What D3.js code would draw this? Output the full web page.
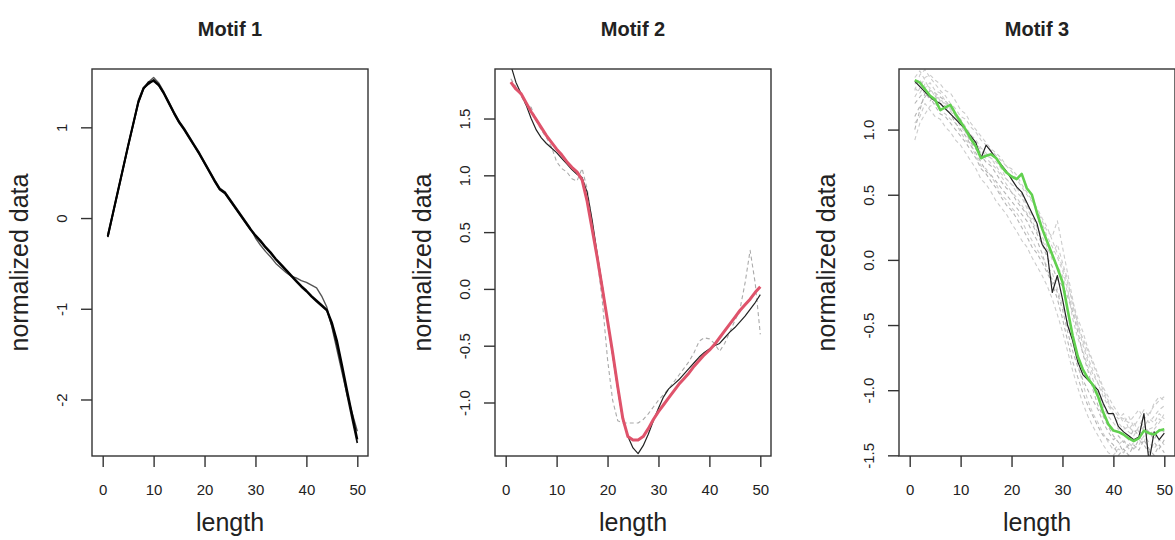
<!DOCTYPE html>
<html>
<head>
<meta charset="utf-8">
<script src="https://cdn.jsdelivr.net/npm/d3@7/dist/d3.min.js"></script>
<style>
body { margin: 0; background: #fff; }
text { font-family: "Liberation Sans", Arial, sans-serif; fill: #222; }
</style>
</head>
<body>
<div class="chart"></div>
<script>
var width = 1175, height = 540;

// x positions of every series
var lengthIdx = d3.range(1, 51);

var titles = ["Motif 1", "Motif 2", "Motif 3"];
var xTicks = [0, 10, 20, 30, 40, 50];
var yTicks1 = [-2, -1, 0, 1];
var yTicks2 = [-1, -0.5, 0, 0.5, 1, 1.5];
var yTicks3 = [-1.5, -1, -0.5, 0, 0.5, 1];

// motif 1 : members (all black)
var m1a = [-0.20,0.05,0.30,0.55,0.80,1.04,1.28,1.43,1.48,1.52,1.47,1.38,1.27,1.16,1.06,0.98,0.89,0.80,0.71,0.61,0.51,0.41,0.32,0.28,0.20,0.12,0.04,-0.04,-0.12,-0.19,-0.25,-0.32,-0.38,-0.45,-0.51,-0.57,-0.63,-0.69,-0.75,-0.80,-0.86,-0.91,-0.96,-1.01,-1.15,-1.35,-1.62,-1.90,-2.17,-2.44];
var m1b = [-0.18,0.06,0.31,0.56,0.81,1.05,1.30,1.44,1.50,1.55,1.49,1.39,1.28,1.17,1.07,0.99,0.90,0.81,0.72,0.62,0.52,0.42,0.33,0.29,0.21,0.13,0.05,-0.03,-0.11,-0.22,-0.30,-0.37,-0.43,-0.50,-0.55,-0.60,-0.64,-0.66,-0.69,-0.71,-0.74,-0.77,-0.86,-0.98,-1.20,-1.45,-1.70,-1.95,-2.15,-2.35];
var m1c = [-0.21,0.04,0.29,0.54,0.79,1.03,1.27,1.42,1.50,1.51,1.46,1.37,1.26,1.15,1.05,0.97,0.88,0.79,0.70,0.60,0.50,0.40,0.31,0.27,0.19,0.11,0.03,-0.05,-0.13,-0.20,-0.26,-0.33,-0.39,-0.46,-0.52,-0.58,-0.64,-0.70,-0.76,-0.81,-0.87,-0.92,-0.97,-1.02,-1.18,-1.40,-1.66,-1.95,-2.22,-2.48];

// motif 2 : grey dashed member, black member, red centre
var m2grey = [1.85,1.78,1.70,1.62,1.60,1.48,1.40,1.33,1.25,1.12,1.06,1.03,0.97,0.95,1.06,0.88,0.58,0.26,-0.12,-0.62,-0.98,-1.16,-1.18,-1.18,-1.18,-1.18,-1.15,-1.10,-1.04,-0.98,-0.93,-0.88,-0.82,-0.76,-0.70,-0.64,-0.56,-0.46,-0.43,-0.44,-0.48,-0.55,-0.48,-0.38,-0.28,-0.18,0.05,0.34,0.05,-0.40];
var m2black = [1.97,1.82,1.72,1.62,1.50,1.40,1.33,1.28,1.24,1.20,1.15,1.10,1.05,1.01,0.98,0.85,0.60,0.30,0.02,-0.28,-0.58,-0.88,-1.15,-1.30,-1.40,-1.45,-1.38,-1.28,-1.16,-1.05,-0.95,-0.88,-0.84,-0.80,-0.75,-0.70,-0.65,-0.60,-0.56,-0.53,-0.50,-0.48,-0.43,-0.38,-0.34,-0.29,-0.24,-0.18,-0.12,-0.05];
var m2red = [1.82,1.76,1.72,1.64,1.56,1.49,1.42,1.35,1.29,1.23,1.18,1.12,1.07,1.03,0.96,0.77,0.52,0.27,0.00,-0.28,-0.56,-0.86,-1.14,-1.30,-1.33,-1.33,-1.30,-1.23,-1.15,-1.08,-1.02,-0.96,-0.90,-0.84,-0.79,-0.74,-0.68,-0.63,-0.58,-0.54,-0.49,-0.43,-0.37,-0.31,-0.25,-0.19,-0.14,-0.09,-0.03,0.02];

// motif 3 : grey dashed members, black member, green centre
var m3g1 = [0.92,1.05,1.12,1.18,1.20,1.15,1.12,1.08,1.05,0.98,0.92,0.88,0.80,0.72,0.70,0.64,0.58,0.50,0.46,0.40,0.36,0.30,0.22,0.15,0.08,0.02,-0.05,-0.10,-0.22,-0.35,-0.48,-0.62,-0.80,-0.95,-1.08,-1.18,-1.25,-1.33,-1.40,-1.46,-1.42,-1.38,-1.45,-1.40,-1.35,-1.40,-1.30,-1.28,-1.22,-1.25];
var m3g2 = [1.30,1.42,1.46,1.40,1.35,1.30,1.26,1.20,1.16,1.10,1.08,1.02,0.98,0.92,0.88,0.84,0.80,0.76,0.72,0.70,0.65,0.58,0.52,0.46,0.38,0.30,0.22,0.18,0.30,0.10,-0.10,-0.30,-0.50,-0.65,-0.78,-0.88,-0.95,-1.02,-1.10,-1.15,-1.20,-1.22,-1.25,-1.20,-1.15,-1.22,-1.18,-1.12,-1.08,-1.05];
var m3g3 = [1.10,1.18,1.25,1.30,1.28,1.25,1.22,1.18,1.10,1.05,0.98,0.90,0.85,0.80,0.75,0.72,0.66,0.60,0.55,0.52,0.45,0.40,0.35,0.28,0.20,0.12,0.02,-0.05,-0.15,-0.20,-0.28,-0.40,-0.55,-0.72,-0.85,-1.00,-1.12,-1.20,-1.28,-1.35,-1.40,-1.48,-1.42,-1.45,-1.38,-1.42,-1.48,-1.40,-1.45,-1.38];
var m3g4 = [1.35,1.38,1.32,1.36,1.30,1.28,1.22,1.15,1.12,1.08,1.02,0.96,0.92,0.86,0.82,0.78,0.75,0.70,0.62,0.58,0.55,0.50,0.42,0.35,0.25,0.18,0.10,0.00,-0.05,-0.12,-0.25,-0.38,-0.52,-0.60,-0.70,-0.80,-0.90,-1.00,-1.08,-1.20,-1.25,-1.30,-1.28,-1.32,-1.30,-1.25,-1.35,-1.30,-1.25,-1.18];
var m3g5 = [1.20,1.25,1.30,1.22,1.26,1.20,1.18,1.12,1.05,1.00,0.95,0.88,0.82,0.75,0.68,0.65,0.60,0.55,0.50,0.45,0.40,0.35,0.30,0.22,0.15,0.05,-0.08,-0.15,-0.25,-0.38,-0.55,-0.70,-0.82,-0.92,-1.00,-1.08,-1.15,-1.25,-1.32,-1.38,-1.35,-1.40,-1.38,-1.30,-1.35,-1.28,-1.32,-1.38,-1.30,-1.32];
var m3g6 = [1.40,1.45,1.38,1.30,1.28,1.22,1.20,1.16,1.12,1.06,1.00,0.96,0.90,0.84,0.80,0.78,0.72,0.66,0.62,0.58,0.52,0.48,0.40,0.32,0.30,0.28,0.18,0.10,0.02,-0.08,-0.22,-0.45,-0.60,-0.70,-0.82,-0.92,-1.02,-1.12,-1.20,-1.25,-1.30,-1.28,-1.32,-1.35,-1.28,-1.20,-1.25,-1.20,-1.15,-1.12];
var m3g7 = [1.05,1.10,1.20,1.15,1.10,1.08,1.02,0.98,0.92,0.88,0.82,0.76,0.70,0.62,0.58,0.52,0.45,0.40,0.35,0.28,0.22,0.15,0.10,0.02,-0.05,-0.12,-0.20,-0.30,-0.42,-0.55,-0.70,-0.85,-0.98,-1.10,-1.20,-1.28,-1.35,-1.42,-1.48,-1.50,-1.45,-1.48,-1.40,-1.45,-1.42,-1.35,-1.40,-1.45,-1.38,-1.42];
var m3g8 = [1.25,1.32,1.40,1.42,1.38,1.35,1.30,1.28,1.22,1.15,1.12,1.05,1.00,0.95,0.90,0.85,0.82,0.78,0.72,0.68,0.62,0.56,0.50,0.45,0.40,0.32,0.25,0.15,0.05,-0.05,-0.18,-0.32,-0.45,-0.55,-0.68,-0.78,-0.88,-0.98,-1.05,-1.12,-1.18,-1.25,-1.20,-1.28,-1.22,-1.15,-1.20,-1.10,-1.05,-1.08];
var m3g9 = [1.00,1.15,1.28,1.25,1.18,1.12,1.10,1.05,1.00,0.95,0.90,0.84,0.78,0.70,0.66,0.60,0.55,0.48,0.42,0.38,0.32,0.25,0.18,0.10,0.05,-0.02,-0.10,-0.18,-0.30,-0.45,-0.62,-0.78,-0.90,-1.02,-1.12,-1.20,-1.28,-1.35,-1.38,-1.42,-1.50,-1.45,-1.50,-1.42,-1.46,-1.38,-1.45,-1.50,-1.42,-1.48];
var m3g10 = [1.32,1.28,1.35,1.32,1.25,1.24,1.18,1.14,1.10,1.02,0.98,0.92,0.88,0.82,0.78,0.74,0.70,0.64,0.58,0.52,0.48,0.42,0.36,0.30,0.22,0.15,0.08,0.05,0.12,-0.02,-0.15,-0.35,-0.48,-0.62,-0.75,-0.85,-0.95,-1.05,-1.12,-1.18,-1.22,-1.18,-1.30,-1.25,-1.32,-1.28,-1.22,-1.25,-1.18,-1.22];
var m3black = [1.37,1.33,1.29,1.25,1.22,1.20,1.16,1.12,1.08,1.04,1.00,0.95,0.90,0.78,0.88,0.83,0.78,0.73,0.68,0.62,0.56,0.52,0.44,0.36,0.28,0.12,0.06,-0.25,-0.12,-0.30,-0.50,-0.62,-0.78,-0.88,-0.92,-0.96,-1.00,-1.10,-1.18,-1.18,-1.28,-1.32,-1.35,-1.38,-1.36,-1.18,-1.55,-1.32,-1.38,-1.33];
var m3green = [1.38,1.36,1.31,1.26,1.23,1.15,1.17,1.19,1.12,1.06,1.00,0.93,0.87,0.78,0.80,0.81,0.78,0.72,0.67,0.64,0.62,0.66,0.55,0.50,0.36,0.24,0.14,0.04,-0.06,-0.17,-0.38,-0.58,-0.74,-0.84,-0.91,-0.96,-1.05,-1.17,-1.26,-1.31,-1.32,-1.34,-1.37,-1.39,-1.37,-1.31,-1.33,-1.34,-1.31,-1.30];

var lightGrey = "#cccccc", midGrey = "#b5b5b5";

function dashed(values, color) {
  return { values: values, color: color, width: 1.1, dash: "4,3" };
}

var panels = [
  { left: 92, yDomain: [-2.623, 1.643], ticks: yTicks1, fmt: d3.format("d"),
    series: [
      { values: m1b, color: "#555", width: 1.4 },
      { values: m1c, color: "#111", width: 1.7 },
      { values: m1a, color: "#000", width: 2.1 }
    ] },
  { left: 495, yDomain: [-1.471, 1.936], ticks: yTicks2, fmt: d3.format(".1f"),
    series: [
      dashed(m2grey, "#aaa"),
      { values: m2black, color: "#222", width: 1.2 },
      { values: m2red, color: "#DF536B", width: 3 }
    ] },
  { left: 899, yDomain: [-1.505, 1.465], ticks: yTicks3, fmt: d3.format(".1f"),
    series: [
      dashed(m3g1, lightGrey), dashed(m3g2, lightGrey), dashed(m3g3, midGrey),
      dashed(m3g4, lightGrey), dashed(m3g5, midGrey), dashed(m3g6, lightGrey),
      dashed(m3g7, lightGrey), dashed(m3g8, lightGrey), dashed(m3g9, midGrey),
      dashed(m3g10, lightGrey),
      { values: m3black, color: "#222", width: 1.2 },
      { values: m3green, color: "#61D04F", width: 2.6 }
    ] }
];

var boxTop = 69, boxBottom = 456, boxW = 276;

// R prints a plain hyphen for negatives
function hyphen(f) {
  return function(d) { return f(d).replace("\u2212", "-"); };
}

var svg = d3.select(".chart")
    .append("svg")
    .attr("width", width)
    .attr("height", height);

panels.forEach(function(p, i) {
  var x = d3.scaleLinear().domain([-2.1, 52.1]).range([p.left, p.left + boxW]);
  var y = d3.scaleLinear().domain(p.yDomain).range([boxBottom, boxTop]);

  var g = svg.append("g");

  g.append("clipPath").attr("id", "clip" + i)
    .append("rect")
      .attr("x", p.left).attr("y", boxTop)
      .attr("width", boxW).attr("height", boxBottom - boxTop);

  var line = d3.line()
      .x(function(d, j) { return x(lengthIdx[j]); })
      .y(function(d) { return y(d); });

  g.append("g").attr("clip-path", "url(#clip" + i + ")")
    .selectAll("path")
    .data(p.series)
    .enter().append("path")
      .attr("d", function(s) { return line(s.values); })
      .attr("fill", "none")
      .attr("stroke", function(s) { return s.color; })
      .attr("stroke-width", function(s) { return s.width; })
      .attr("stroke-dasharray", function(s) { return s.dash || null; })
      .attr("stroke-linejoin", "round");

  // box
  g.append("rect")
    .attr("x", p.left).attr("y", boxTop)
    .attr("width", boxW).attr("height", boxBottom - boxTop)
    .attr("fill", "none").attr("stroke", "#333").attr("stroke-width", 1.4);

  // x axis
  var xa = g.append("g")
    .attr("transform", "translate(0," + boxBottom + ")")
    .call(d3.axisBottom(x).tickValues(xTicks).tickSize(11).tickPadding(0).tickFormat(d3.format("d")));
  xa.select(".domain").remove();
  xa.selectAll(".tick line").attr("stroke", "#333").attr("stroke-width", 1.4);
  xa.selectAll(".tick text").attr("y", 39).attr("dy", null)
    .style("font-size", "15px").style("font-family", "Liberation Sans, Arial, sans-serif").attr("fill", "#222");

  // y axis
  var ya = g.append("g")
    .attr("transform", "translate(" + p.left + ",0)")
    .call(d3.axisLeft(y).tickValues(p.ticks).tickSize(11).tickFormat(hyphen(p.fmt)));
  ya.select(".domain").remove();
  ya.selectAll(".tick line").attr("stroke", "#333").attr("stroke-width", 1.4);
  ya.selectAll(".tick text")
    .attr("x", null).attr("dy", "0.35em")
    .attr("text-anchor", "middle")
    .attr("transform", "translate(-30,0) rotate(-90)")
    .style("font-size", "15px").style("font-family", "Liberation Sans, Arial, sans-serif").attr("fill", "#222");

  // title and labels
  g.append("text")
    .attr("x", p.left + boxW / 2).attr("y", 36)
    .attr("text-anchor", "middle")
    .style("font-size", "20px").style("font-weight", "bold")
    .text(titles[i]);

  g.append("text")
    .attr("x", p.left + boxW / 2).attr("y", 531)
    .attr("text-anchor", "middle")
    .style("font-size", "25px").attr("fill", "#333")
    .text("length");

  g.append("text")
    .attr("transform", "translate(" + (p.left - 73) + "," + ((boxTop + boxBottom) / 2) + ") rotate(-90)")
    .attr("dy", "0.35em")
    .attr("text-anchor", "middle")
    .style("font-size", "25px").attr("fill", "#333")
    .text("normalized data");
});
</script>
</body>
</html>
